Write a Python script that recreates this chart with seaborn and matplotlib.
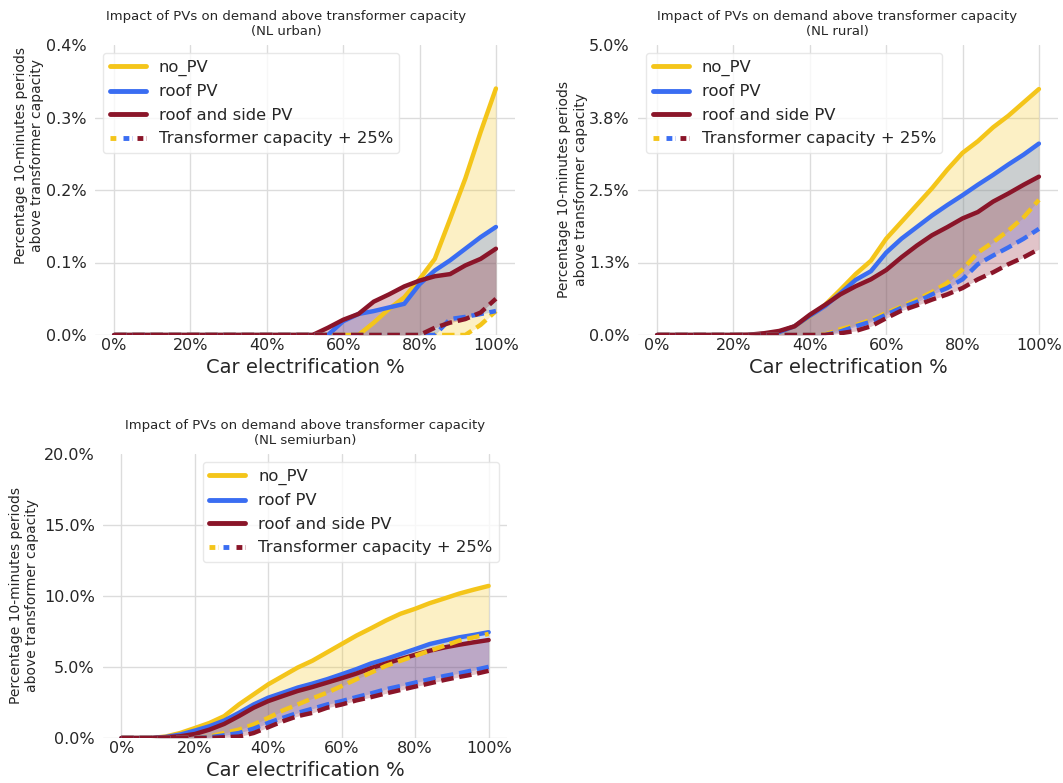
import numpy as np
import matplotlib
matplotlib.use("Agg")
import matplotlib.pyplot as plt
import seaborn as sns
from matplotlib.lines import Line2D
from matplotlib.legend_handler import HandlerTuple

# Car electrification levels (%)
electrification = [0, 4, 8, 12, 16, 20, 24, 28, 32, 36, 40, 44, 48,
                   52, 56, 60, 64, 68, 72, 76, 80, 84, 88, 92, 96, 100]

# Share (%) of 10-minute periods above transformer capacity -- NL urban
urban_no_pv = [0, 0, 0, 0, 0, 0, 0, 0, 0, 0, 0, 0, 0, 0, 0, 0, 0,
               0.017, 0.036, 0.052, 0.077, 0.105, 0.160, 0.216, 0.280, 0.340]
urban_roof = [0, 0, 0, 0, 0, 0, 0, 0, 0, 0, 0, 0, 0, 0, 0,
              0.019, 0.029, 0.033, 0.038, 0.043, 0.070, 0.089, 0.103, 0.119, 0.135, 0.149]
urban_side = [0, 0, 0, 0, 0, 0, 0, 0, 0, 0, 0, 0, 0, 0,
              0.010, 0.021, 0.029, 0.046, 0.056, 0.067, 0.075, 0.081, 0.084, 0.096, 0.105, 0.119]
urban_no_pv_tc = [0, 0, 0, 0, 0, 0, 0, 0, 0, 0, 0, 0, 0, 0, 0, 0, 0, 0, 0, 0, 0, 0, 0, 0,
                  0.014, 0.033]
urban_roof_tc = [0, 0, 0, 0, 0, 0, 0, 0, 0, 0, 0, 0, 0, 0, 0, 0, 0, 0, 0, 0, 0, 0,
                 0.022, 0.025, 0.029, 0.033]
urban_side_tc = [0, 0, 0, 0, 0, 0, 0, 0, 0, 0, 0, 0, 0, 0, 0, 0, 0, 0, 0, 0, 0,
                 0.010, 0.017, 0.022, 0.031, 0.050]

# NL rural
rural_no_pv = [0, 0, 0, 0, 0, 0, 0, 0.02, 0.05, 0.15, 0.32, 0.52, 0.78, 1.05, 1.28,
               1.66, 1.95, 2.24, 2.53, 2.85, 3.14, 3.34, 3.58, 3.78, 4.01, 4.24]
rural_roof = [0, 0, 0, 0, 0, 0, 0, 0.02, 0.05, 0.15, 0.33, 0.50, 0.72, 0.95, 1.10,
              1.42, 1.66, 1.86, 2.06, 2.24, 2.41, 2.59, 2.76, 2.94, 3.11, 3.30]
rural_side = [0, 0, 0, 0, 0, 0, 0.005, 0.03, 0.07, 0.15, 0.35, 0.52, 0.70, 0.84, 0.96,
              1.12, 1.34, 1.54, 1.72, 1.86, 2.01, 2.12, 2.30, 2.44, 2.59, 2.73]
rural_no_pv_tc = [0, 0, 0, 0, 0, 0, 0, 0, 0, 0, 0, 0.01, 0.10, 0.17, 0.26,
                  0.38, 0.49, 0.61, 0.74, 0.90, 1.13, 1.42, 1.60, 1.80, 2.03, 2.33]
rural_roof_tc = [0, 0, 0, 0, 0, 0, 0, 0, 0, 0, 0, 0, 0.06, 0.15, 0.23,
                 0.35, 0.47, 0.57, 0.70, 0.81, 0.96, 1.22, 1.37, 1.51, 1.66, 1.83]
rural_side_tc = [0, 0, 0, 0, 0, 0, 0, 0, 0, 0, 0, 0, 0.03, 0.07, 0.15,
                 0.29, 0.42, 0.51, 0.61, 0.70, 0.81, 0.96, 1.08, 1.22, 1.34, 1.48]

# NL semiurban
semi_no_pv = [0, 0, 0, 0.10, 0.35, 0.70, 1.06, 1.54, 2.36, 3.07, 3.78, 4.37, 4.96,
              5.44, 6.03, 6.62, 7.21, 7.73, 8.27, 8.75, 9.10, 9.50, 9.83, 10.17, 10.45, 10.71]
semi_roof = [0, 0, 0, 0.07, 0.24, 0.52, 0.83, 1.23, 1.77, 2.36, 2.84, 3.19, 3.55,
             3.83, 4.14, 4.49, 4.85, 5.25, 5.56, 5.91, 6.26, 6.62, 6.86, 7.09, 7.26, 7.45]
semi_side = [0, 0, 0, 0.05, 0.12, 0.28, 0.59, 0.99, 1.54, 2.13, 2.60, 2.96, 3.31,
             3.59, 3.90, 4.21, 4.54, 4.92, 5.25, 5.56, 5.86, 6.15, 6.38, 6.57, 6.74, 6.90]
semi_no_pv_tc = [0, 0, 0, 0, 0, 0, 0.10, 0.35, 0.59, 0.95, 1.42, 1.94, 2.36,
                 2.79, 3.19, 3.66, 4.14, 4.61, 5.08, 5.44, 5.79, 6.15, 6.50, 6.86, 7.09, 7.33]
semi_roof_tc = [0, 0, 0, 0, 0, 0, 0.05, 0.19, 0.35, 0.66, 1.06, 1.42, 1.77,
                2.06, 2.36, 2.60, 2.88, 3.14, 3.43, 3.66, 3.90, 4.14, 4.37, 4.56, 4.78, 5.01]
semi_side_tc = [0, 0, 0, 0, 0, 0, 0, 0.05, 0.10, 0.35, 0.76, 1.18, 1.54,
                1.77, 2.13, 2.36, 2.65, 2.88, 3.14, 3.38, 3.62, 3.85, 4.09, 4.30, 4.49, 4.73]

x_ticks = [0, 20, 40, 60, 80, 100]
x_tick_labels = ["0%", "20%", "40%", "60%", "80%", "100%"]
urban_yticks = [0.0, 0.1, 0.2, 0.3, 0.4]
urban_ylabels = ["0.0%", "0.1%", "0.2%", "0.3%", "0.4%"]
rural_yticks = [0.0, 1.25, 2.5, 3.75, 5.0]
rural_ylabels = ["0.0%", "1.3%", "2.5%", "3.8%", "5.0%"]
semi_yticks = [0.0, 5.0, 10.0, 15.0, 20.0]
semi_ylabels = ["0.0%", "5.0%", "10.0%", "15.0%", "20.0%"]

series_names = ["no_PV", "roof PV", "roof and side PV"]
tc_name = "Transformer capacity + 25%"
colors = ["#F4C51A", "#3A6DF2", "#8A1529"]
dash_pattern = (0, (2.8, 1.3))

sns.set_style("whitegrid")
plt.rcParams["font.family"] = ["DejaVu Sans"]

W, H = 1063, 783
fig = plt.figure(figsize=(W / 100, H / 100), dpi=100)


def px_axes(left, top, right, bottom):
    return fig.add_axes([left / W, 1 - bottom / H, (right - left) / W, (bottom - top) / H])


panels = [
    dict(box=(95, 45, 515, 335), region="NL urban",
         solid=[urban_no_pv, urban_roof, urban_side],
         tc=[urban_no_pv_tc, urban_roof_tc, urban_side_tc],
         yticks=urban_yticks, ylabels=urban_ylabels, loc="upper left",
         title_x=0.455, ylab=(-0.122, 0.62)),
    dict(box=(638, 45, 1058, 335), region="NL rural",
         solid=[rural_no_pv, rural_roof, rural_side],
         tc=[rural_no_pv_tc, rural_roof_tc, rural_side_tc],
         yticks=rural_yticks, ylabels=rural_ylabels, loc="upper left",
         title_x=0.475, ylab=(-0.12, 0.5)),
    dict(box=(103, 454, 507, 738), region="NL semiurban",
         solid=[semi_no_pv, semi_roof, semi_side],
         tc=[semi_no_pv_tc, semi_roof_tc, semi_side_tc],
         yticks=semi_yticks, ylabels=semi_ylabels, loc="upper right",
         title_x=0.5, ylab=(-0.158, 0.5)),
]

x = np.array(electrification)

for p in panels:
    ax = px_axes(*p["box"])
    # shaded band between each scenario and its +25% capacity counterpart
    for ys, yt, c in zip(p["solid"], p["tc"], colors):
        ax.fill_between(x, ys, yt, color=c, alpha=0.25, linewidth=0)
    for ys, c in zip(p["solid"], colors):
        sns.lineplot(x=x, y=ys, ax=ax, color=c, linewidth=3.2)
    for yt, c in zip(p["tc"], colors):
        sns.lineplot(x=x, y=yt, ax=ax, color=c, linewidth=3.2, linestyle=dash_pattern)

    ax.set_xlim(-5, 105)
    ax.set_ylim(p["yticks"][0], p["yticks"][-1])
    ax.set_xticks(x_ticks)
    ax.set_xticklabels(x_tick_labels, fontsize=11.5)
    ax.set_yticks(p["yticks"])
    ax.set_yticklabels(p["ylabels"], fontsize=11.5)
    ax.tick_params(axis="x", pad=2, length=0)
    ax.tick_params(axis="y", pad=6, length=0)
    ax.yaxis.get_gridlines()[-1].set_visible(False)
    for g in ax.get_xgridlines() + ax.get_ygridlines():
        g.set_color("#dcdcdc")
        g.set_linewidth(1.0)
    sns.despine(ax=ax, left=True, bottom=True, top=True, right=True)

    ax.set_xlabel("Car electrification %", fontsize=14, labelpad=4)
    ax.set_ylabel("Percentage 10-minutes periods\nabove transformer capacity", fontsize=10)
    ax.yaxis.set_label_coords(*p["ylab"])
    ax.set_title("Impact of PVs on demand above transformer capacity\n(" + p["region"] + ")",
                 fontsize=9.5, x=p["title_x"], pad=7)

    handles = [Line2D([], [], color=c, linewidth=3.5) for c in colors]
    tc_handle = tuple(Line2D([], [], color=c, linewidth=3.5, linestyle=(0, (1.2, 0.6)))
                      for c in colors)
    leg = ax.legend(handles + [tc_handle], series_names + [tc_name], loc=p["loc"],
                    fontsize=11.75, frameon=True, handlelength=2.2, labelspacing=0.52,
                    handler_map={tuple: HandlerTuple(ndivide=None, pad=0.3)})
    leg.get_frame().set_edgecolor("#e3e3e3")
    leg.get_frame().set_alpha(0.8)

fig.savefig("out.png", dpi=100)
